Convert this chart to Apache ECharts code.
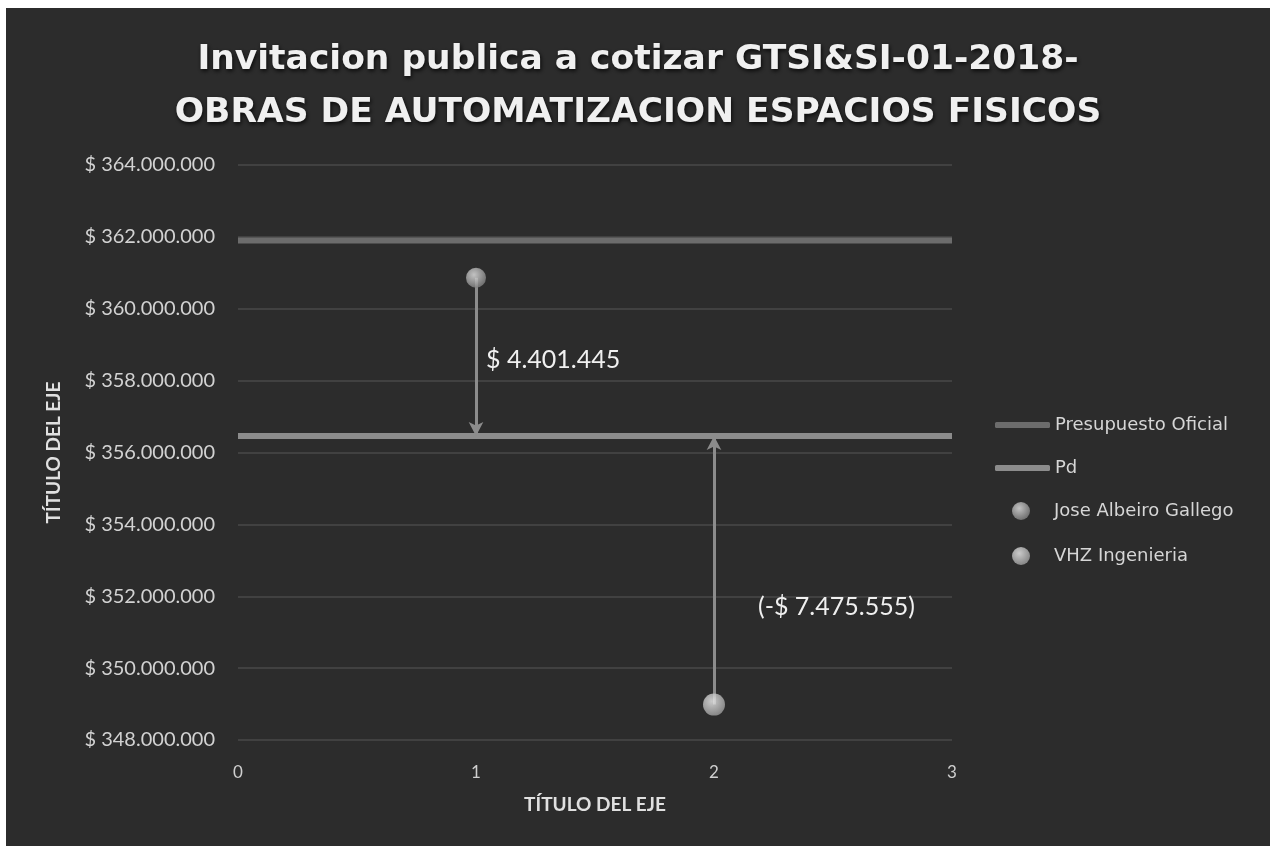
<!DOCTYPE html>
<html><head><meta charset="utf-8">
<script src="https://cdn.jsdelivr.net/npm/echarts@6/dist/echarts.min.js"></script>
<style>
html,body{margin:0;padding:0;background:#ffffff;width:1274px;height:846px;overflow:hidden;}
#c{position:absolute;left:6px;top:8px;width:1264px;height:838px;}
</style></head>
<body><div id="c"></div>
<script>
const titleLines = ['Invitacion publica a cotizar GTSI&SI-01-2018-', 'OBRAS DE AUTOMATIZACION ESPACIOS FISICOS'];
const xRange = [0, 3];
const presupuestoOficial = 361900000;
const pd = 356460000;
const joseX = 1, joseValue = 360861445;
const vhzX = 2, vhzValue = 348984445;
const joseDiffLabel = '$ 4.401.445';
const vhzDiffLabel = '(-$ 7.475.555)';
const yMin = 348000000, yMax = 364000000, yStep = 2000000;
const axisTitle = 'TÍTULO DEL EJE';
const lineNames = ['Presupuesto Oficial', 'Pd'];
const pointNames = ['Jose Albeiro Gallego', 'VHZ Ingenieria'];

function money(v){
  return '$ ' + Math.round(v).toString().replace(/\B(?=(\d{3})+(?!\d))/g, '.');
}
const ball = (c1, c2) => ({type:'radial', x:0.4, y:0.35, r:0.7, colorStops:[{offset:0,color:c1},{offset:1,color:c2}]});
const font = 'Lato, "Open Sans", sans-serif';
const wide = '"DejaVu Sans", "Open Sans", sans-serif';
const arrowStyle = {color:'#8c8c8c', width:3, type:'solid'};

const chart = echarts.init(document.getElementById('c'));
const option = {
  backgroundColor: '#2c2c2c',
  animation: false,
  textStyle: {fontFamily: font},
  title: {
    text: titleLines.join('\n'),
    left: 'center', top: 21,
    textStyle: {color:'#f0f0f0', fontSize: 34.5, fontWeight: 'bold', lineHeight: 53, fontFamily: wide,
      textShadowColor:'rgba(0,0,0,0.8)', textShadowBlur:4, textShadowOffsetX:1, textShadowOffsetY:2}
  },
  grid: {left: 232, right: 318, top: 157, bottom: 106},
  legend: [
    {orient: 'vertical', left: 989, top: 407, padding: 0,
     itemWidth: 55, itemHeight: 6, itemGap: 23, icon: 'roundRect',
     textStyle: {color:'#d6d6d6', fontSize: 18, lineHeight: 20, fontFamily: wide},
     data: lineNames},
    {orient: 'vertical', left: 1006, top: 493, padding: 0,
     itemWidth: 18, itemHeight: 18, itemGap: 25, icon: 'circle',
     textStyle: {color:'#d6d6d6', fontSize: 18, lineHeight: 20, fontFamily: wide, padding:[0,0,0,19]},
     data: pointNames}
  ],
  xAxis: {
    type: 'value', min: xRange[0], max: xRange[1], interval: 1,
    name: axisTitle, nameLocation: 'middle', nameGap: 55,
    nameTextStyle: {color:'#e0e0e0', fontSize: 19, fontWeight:'bold', fontFamily: font},
    axisLine: {show:false}, axisTick: {show:false}, splitLine: {show:false},
    axisLabel: {color:'#cfcfcf', fontSize: 17, margin: 24, fontFamily: font}
  },
  yAxis: {
    type: 'value', min: yMin, max: yMax, interval: yStep,
    name: axisTitle, nameLocation: 'middle', nameGap: 175, nameRotate: 90,
    nameTextStyle: {color:'#e0e0e0', fontSize: 19, fontWeight:'bold', fontFamily: font},
    axisLine: {show:false}, axisTick: {show:false},
    splitLine: {lineStyle: {color:'#484848', width: 1.5}},
    axisLabel: {color:'#d2d2d2', fontSize: 20, margin: 23, formatter: money, fontFamily: font}
  },
  series: [
    {name: lineNames[0], type:'line', symbol:'none', z:3,
     lineStyle:{color:'#6c6c6c', width:6}, itemStyle:{color:'#6c6c6c'},
     data: xRange.map(x => [x, presupuestoOficial])},
    {name: lineNames[1], type:'line', symbol:'none', z:3,
     lineStyle:{color:'#8c8c8c', width:6}, itemStyle:{color:'#8c8c8c'},
     data: xRange.map(x => [x, pd])},
    {name: pointNames[0], type:'scatter', symbolSize:20, z:5,
     itemStyle:{color: ball('#e8e8e8','#7a7a7a')},
     data: [[joseX, joseValue]],
     markLine: {silent:true, symbol:['none','arrow'], symbolSize:[11,14], z:4,
       lineStyle: arrowStyle, label:{show:false},
       data: [[{coord:[joseX, joseValue]}, {coord:[joseX, pd]}]]}},
    {name: pointNames[1], type:'scatter', symbolSize:22, z:5,
     itemStyle:{color: ball('#f2f2f2','#989898')},
     data: [[vhzX, vhzValue]],
     markLine: {silent:true, symbol:['none','arrow'], symbolSize:[11,14], z:4,
       lineStyle: arrowStyle, label:{show:false},
       data: [[{coord:[vhzX, vhzValue]}, {coord:[vhzX, pd]}]]}}
  ]
};
chart.setOption(option);

const p1 = chart.convertToPixel({gridIndex:0}, [joseX, (joseValue + pd) / 2]);
const p2 = chart.convertToPixel({gridIndex:0}, [vhzX, (vhzValue + pd) / 2]);
chart.setOption({
  graphic: [
    {type:'text', x: p1[0] + 10, y: p1[1] + 3, z:10,
     style:{text: joseDiffLabel, fill:'#f0f0f0', fontSize: 25, fontFamily: font, align:'left', verticalAlign:'middle'}},
    {type:'text', x: p2[0] + 44, y: p2[1] + 37, z:10,
     style:{text: vhzDiffLabel, fill:'#f0f0f0', fontSize: 25, fontFamily: font, align:'left', verticalAlign:'middle'}}
  ]
});
</script></body></html>
